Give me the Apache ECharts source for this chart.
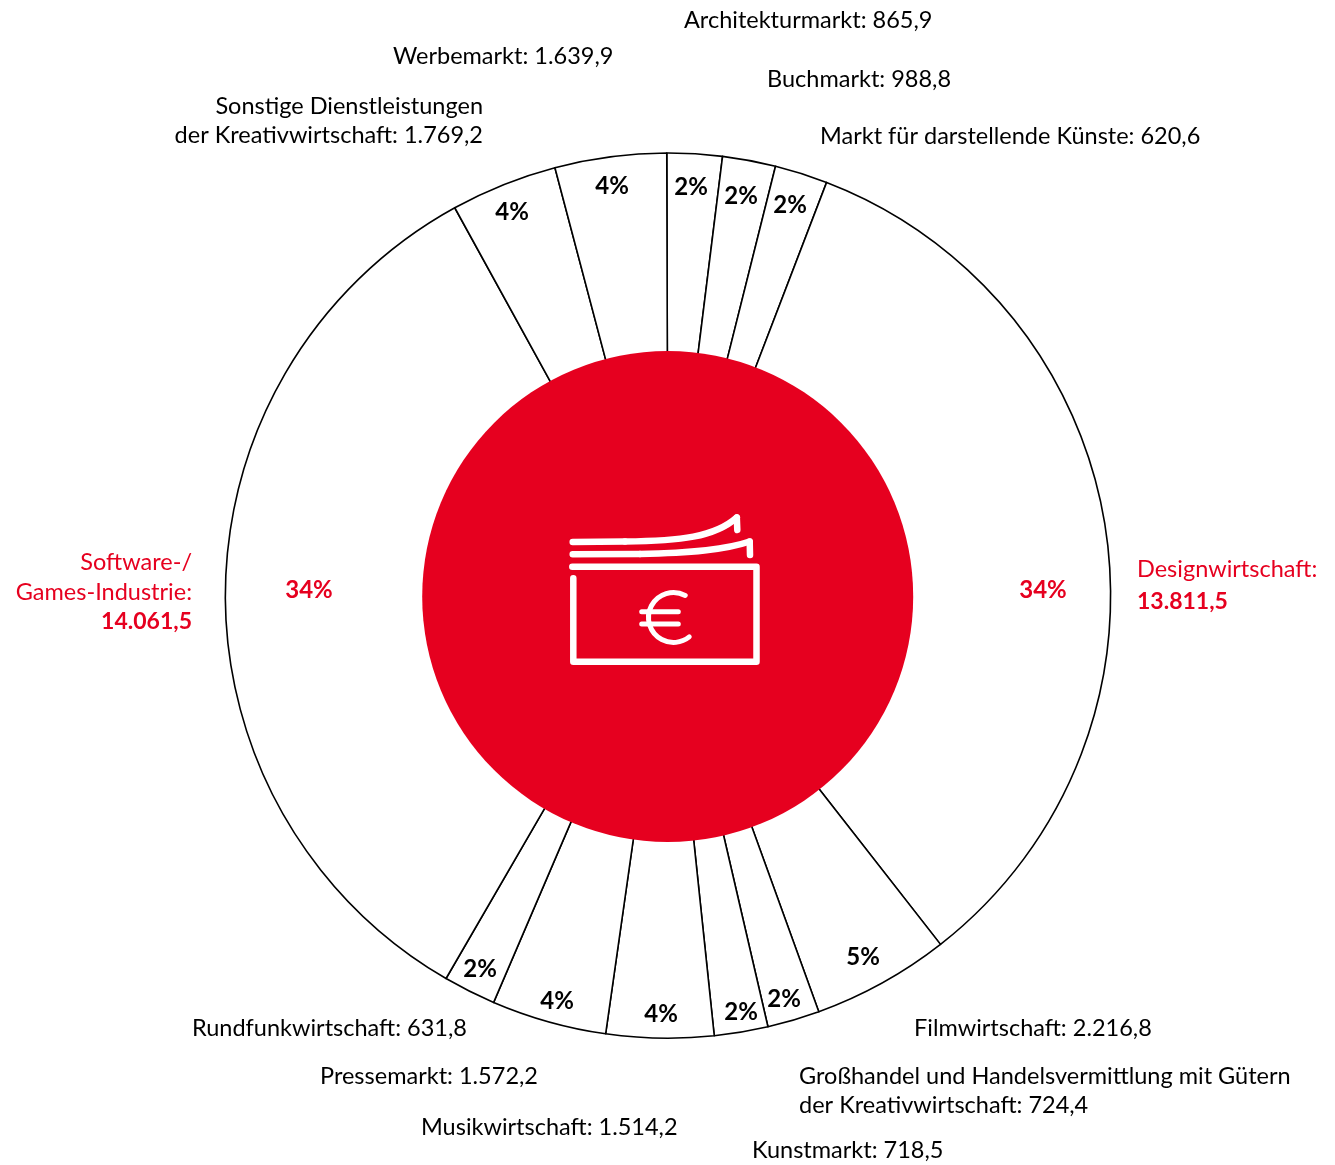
<!DOCTYPE html>
<html><head><meta charset="utf-8">
<style>html,body{margin:0;padding:0;background:#fff}#c{width:1335px;height:1165px}</style>
<script src="https://cdn.jsdelivr.net/npm/echarts@6/dist/echarts.min.js"></script>
</head><body><div id="c"></div>
<script>
const names = ["Architekturmarkt","Buchmarkt","Markt für darstellende Künste","Designwirtschaft","Filmwirtschaft","Großhandel und Handelsvermittlung mit Gütern\nder Kreativwirtschaft","Kunstmarkt","Musikwirtschaft","Pressemarkt","Rundfunkwirtschaft","Software-/\nGames-Industrie","Sonstige Dienstleistungen\nder Kreativwirtschaft","Werbemarkt"];
const amounts = ["865,9","988,8","620,6","13.811,5","2.216,8","724,4","718,5","1.514,2","1.572,2","631,8","14.061,5","1.769,2","1.639,9"];
const percents = [2,2,2,34,5,2,2,4,4,2,34,4,4];
// widths of the slices as drawn in the picture (they follow the rounded percentages, not the amounts)
const drawnShares = [7.24,6.98,6.94,121.0,18.08,6.87,7.05,14.1,15.1,6.9,121.1,14.0,14.64];
const highlighted = ["Designwirtschaft","Software-/\nGames-Industrie"];

const RED = "#E6001F";
const FONT = "Lato";
const percentPos = [[691,187],[741,196],[790,205],[1043,590],[863,957],[784,999],[741,1012],[661,1014],[557,1001],[480,969],[309,590],[512,212],[612,186]];
const namePos = [[684,20,'left'],[767,79,'left'],[820,136,'left'],[1137,587,'left'],[914,1028,'left'],[799,1091,'left'],[752,1150.5,'left'],[421,1127,'left'],[320,1076,'left'],[192,1028,'left'],[192,592.5,'right'],[483,121,'right'],[393,56,'left']];

const chart = echarts.init(document.getElementById('c'), null, {renderer:'canvas'});
const thick = {fill:null,stroke:'#fff',lineWidth:6.5,lineCap:'round',lineJoin:'round'};
const thin = {fill:null,stroke:'#fff',lineWidth:5,lineCap:'round'};
const el = (type,shape,style)=>({type,shape,style,silent:true,z:20});
const rad = d=>d*Math.PI/180;
const START = 90.16;
chart.setOption({
 animation:false,
 backgroundColor:'#fff',
 textStyle:{fontFamily:FONT},
 graphic:{elements:[
  el('polyline',{points:[[573.3,578.3],[573.3,661.7],[756.5,661.7],[756.5,566.7],[572.3,566.7]]},thick),
  el('line',{x1:572.7,y1:542,x2:625,y2:541.5},thick),
  el('bezierCurve',{x1:625,y1:541.5,cpx1:680,cpy1:541,cpx2:715,cpy2:537,x2:736.8,y2:517.5},thick),
  el('line',{x1:736.8,y1:517.5,x2:737.3,y2:530},thick),
  el('line',{x1:572.7,y1:554.3,x2:640,y2:554},thick),
  el('bezierCurve',{x1:640,y1:554,cpx1:690,cpy1:553,cpx2:725,cpy2:550,x2:749.7,y2:541.5},thick),
  el('line',{x1:749.7,y1:541.5,x2:750,y2:555},thick),
  el('arc',{cx:673.5,cy:617.5,r:25,startAngle:rad(-62),endAngle:rad(51),clockwise:false},thin),
  el('line',{x1:641.7,y1:611.7,x2:678.3,y2:611.7},thin),
  el('line',{x1:641.7,y1:624,x2:678.3,y2:624},thin)
 ]},
 series:[
  {type:'pie',center:[668,595.6],radius:[235,442.6],startAngle:START,clockwise:true,avoidLabelOverlap:false,silent:true,z:2,
   data:names.map((n,i)=>({name:n,value:drawnShares[i],
      label:{color:highlighted.includes(n)?RED:'#000'}})),
   itemStyle:{color:'#fff',borderColor:'#000',borderWidth:1.6},
   label:{show:true,position:'inside',fontFamily:FONT,fontSize:24,fontWeight:'bold',
     formatter:p=>percents[p.dataIndex]+'%'},
   labelLine:{show:false},
   labelLayout:p=>({x:percentPos[p.dataIndex][0],y:percentPos[p.dataIndex][1],align:'center',verticalAlign:'middle'})
  },
  {type:'pie',center:[667.7,596.5],radius:[0,245.5],silent:true,z:3,label:{show:false},labelLine:{show:false},
   data:[{name:'Gesamt',value:1}],itemStyle:{color:RED,borderWidth:0}},
  {type:'pie',center:[668,595.6],radius:[245,442.6],startAngle:START,clockwise:true,avoidLabelOverlap:false,silent:true,z:4,
   data:names.map((n,i)=>({name:n,value:drawnShares[i],
      label:{color:highlighted.includes(n)?RED:'#000'}})),
   itemStyle:{color:'transparent',borderWidth:0},
   label:{show:true,position:'outside',fontFamily:FONT,fontSize:23.5,lineHeight:29.5,
     formatter:p=>{
       const i=p.dataIndex;
       if(names[i]==='Designwirtschaft') return names[i]+':\n{c|'+amounts[i]+'}';
       return highlighted.includes(names[i]) ? names[i]+':\n{b|'+amounts[i]+'}' : names[i]+': '+amounts[i];
     },
     rich:{b:{fontFamily:FONT,fontSize:23,fontWeight:'bold',color:RED,lineHeight:30},
           c:{fontFamily:FONT,fontSize:23,fontWeight:'bold',color:RED,lineHeight:34.5}}},
   labelLine:{show:false},
   labelLayout:p=>{const q=namePos[p.dataIndex];return {x:q[0],y:q[1],align:q[2],verticalAlign:'middle'};}
  }
 ]
});
</script></body></html>
